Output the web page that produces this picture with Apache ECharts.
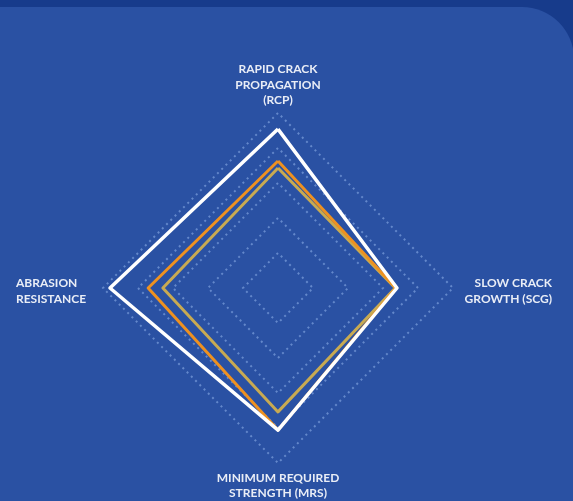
<!DOCTYPE html>
<html>
<head>
<meta charset="utf-8">
<script src="https://cdn.jsdelivr.net/npm/echarts@6/dist/echarts.min.js"></script>
<style>
  html, body { margin: 0; padding: 0; background: #173b8b; }
  #chart { width: 573px; height: 501px; }
</style>
</head>
<body>
<div id="chart"></div>
<script>
// indicator order: top, left, bottom, right (echarts goes counter-clockwise)
var indicators = [
  'RAPID CRACK\nPROPAGATION\n(RCP)',
  'ABRASION\nRESISTANCE',
  'MINIMUM REQUIRED\nSTRENGTH (MRS)',
  'SLOW CRACK\nGROWTH (SCG)'
];
var maxValue = 5;

var whiteValues = [4.54, 4.8, 4.06, 3.4];
var orangeValues = [3.63, 3.71, 4.06, 3.37];
var tanValues = [3.43, 3.29, 3.54, 3.35];

var myChart = echarts.init(document.getElementById('chart'));

var txt = { color: '#e9edf6', fontFamily: 'Lato', fontWeight: 'bold', fontSize: 12, lineHeight: 15.5 };

// pick a rich style per label so each block lines up like the original
function styleKey(name) {
  if (name.indexOf('ABRASION') === 0) return 'l';
  if (name.indexOf('SLOW') === 0) return 'r';
  if (name.indexOf('RAPID') === 0) return 't';
  return 'c';
}

var option = {
  backgroundColor: 'transparent',
  graphic: [{
    type: 'rect',
    z: -10,
    shape: { x: -60, y: 7, width: 634, height: 560, r: [0, 52, 0, 0] },
    style: { fill: '#2a51a3' }
  }],
  radar: {
    center: [278, 288],
    radius: 175,
    splitNumber: 5,
    shape: 'polygon',
    nameGap: 7,
    indicator: indicators.map(function (n) { return { name: n, max: maxValue, min: 0 }; }),
    axisName: {
      formatter: function (name) {
        var k = styleKey(name);
        return name.split('\n').map(function (l) { return '{' + k + '|' + l + '}'; }).join('\n');
      },
      rich: {
        l: Object.assign({ width: 80, align: 'left', padding: [6, 0, 0, 0] }, txt),
        r: Object.assign({ width: 92, align: 'right', padding: [6, 0, 0, 0] }, txt),
        t: Object.assign({ align: 'center', padding: [4, 0, 0, 0] }, txt),
        c: Object.assign({ align: 'center' }, txt)
      }
    },
    axisLine: { show: false },
    axisTick: { show: false },
    splitArea: { show: false },
    splitLine: {
      lineStyle: { color: '#6488cb', width: 2, type: [2, 4] }
    }
  },
  series: [{
    type: 'radar',
    symbol: 'none',
    data: [
      { value: tanValues, lineStyle: { color: '#c8aa52', width: 3 } },
      { value: orangeValues, lineStyle: { color: '#ee9120', width: 3 } },
      { value: whiteValues, lineStyle: { color: '#ffffff', width: 3.5 } }
    ]
  }]
};

myChart.setOption(option);
</script>
</body>
</html>
